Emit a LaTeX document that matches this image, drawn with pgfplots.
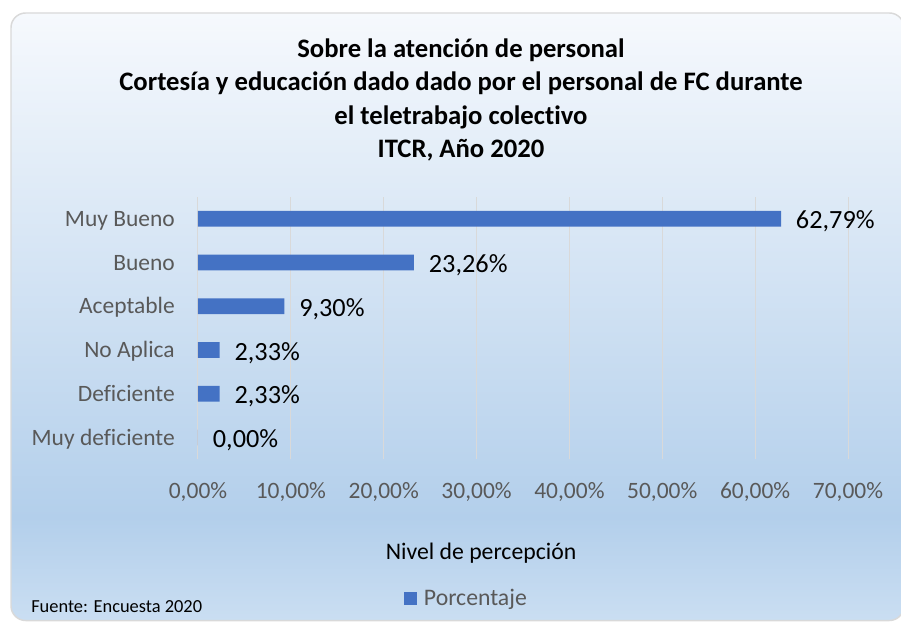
\documentclass[border=0pt]{standalone}
\usepackage{fontspec}
\setmainfont{Carlito}[Ligatures=NoCommon]
\usepackage{pgfplots}
\pgfplotsset{compat=1.18}
\definecolor{barblue}{HTML}{4472C4}
\definecolor{gridgray}{HTML}{D9D9D9}
\definecolor{labgray}{HTML}{595959}
\definecolor{framegray}{HTML}{D9D9D9}
\definecolor{bgtop}{HTML}{F6F9FD}
\definecolor{bgmid}{HTML}{B3CFEB}
\definecolor{bgbot}{HTML}{CADEF2}
\pgfdeclareverticalshading{chartbg}{100bp}{color(0bp)=(bgbot); color(25bp)=(bgbot); color(33.5bp)=(bgmid); color(75bp)=(bgtop); color(100bp)=(bgtop)}
\begin{document}
\begin{tikzpicture}
\useasboundingbox (0,0) rectangle (675.75pt,471pt);
\begin{scope}
\clip (0,0) rectangle (675.75pt,471pt);
\shade[shading=chartbg, rounded corners=11pt] (8.25pt,5.6pt) rectangle (678pt,461.25pt);
\draw[framegray, line width=1.1pt, rounded corners=11pt] (8.25pt,5.6pt) rectangle (678pt,461.25pt);
\end{scope}
\begin{axis}[
  at={(148.5pt,126.45pt)}, anchor=south west,
  scale only axis, width=487.5pt, height=196.9pt,
  xmin=0, xmax=70, ymin=-0.5, ymax=5.5,
  xbar, bar width=11.8pt,
  clip=false,
  axis line style={draw=none},
  major tick length=0pt,
  xmajorgrids, grid style={draw=gridgray, line width=0.75pt},
  xtick={0,10,20,30,40,50,60,70},
  xticklabels={{0,00\%},{10,00\%},{20,00\%},{30,00\%},{40,00\%},{50,00\%},{60,00\%},{70,00\%}},
  xticklabel style={anchor=base, inner sep=0pt, yshift=-29.25pt, font=\fontsize{17.6}{21}\selectfont, text=labgray},
  ytick={0,1,2,3,4,5},
  yticklabels={Muy deficiente, Deficiente, No Aplica, Aceptable, Bueno, Muy Bueno},
  yticklabel style={anchor=base east, inner sep=0pt, xshift=-17.25pt, yshift=-5.7pt, font=\fontsize{17.6}{21}\selectfont, text=labgray},
  /pgf/number format/assume math mode=true,
  xlabel={Nivel de percepción},
  xlabel style={at={(axis description cs:0.4354,-0.3805)}, anchor=base, inner sep=0pt, font=\fontsize{17.8}{21}\selectfont, text=black},
  title={Sobre la atención de personal\\Cortesía y educación dado dado por el personal de FC durante\\el teletrabajo colectivo\\ITCR, Año 2020},
  title style={at={(axis description cs:0.4046,1.339)}, anchor=center, align=center, inner sep=0pt, font=\fontsize{20}{25.2}\selectfont\bfseries, text=black},
  legend style={at={(axis description cs:0.3169,-0.528)}, anchor=west, draw=none, fill=none, inner sep=0pt, outer sep=0pt, font=\fontsize{17.8}{21}\selectfont, text=labgray, nodes={inner sep=0pt}},
  legend image code/.code={\fill[barblue] (0pt,-4.875pt) rectangle (9.75pt,4.875pt); \path (15pt,0pt);},
  nodes near coords={\pgfmathprintnumber[fixed, fixed zerofill, precision=2, use comma]{\pgfplotspointmeta}\%},
  nodes near coords style={anchor=base west, inner sep=0pt, xshift=11pt, yshift=-7.6pt, font=\fontsize{19.7}{23}\selectfont, text=black},
]
\addplot[fill=barblue, draw=none] coordinates {(62.79,5) (23.26,4) (9.30,3) (2.33,2) (2.33,1) (0,0)};
\addlegendentry{Porcentaje}
\end{axis}
\node[anchor=base west, inner sep=0pt, font=\fontsize{13.8}{16}\selectfont] at (23.25pt,11.25pt) {Fuente: Encuesta 2020};
\end{tikzpicture}
\end{document}
